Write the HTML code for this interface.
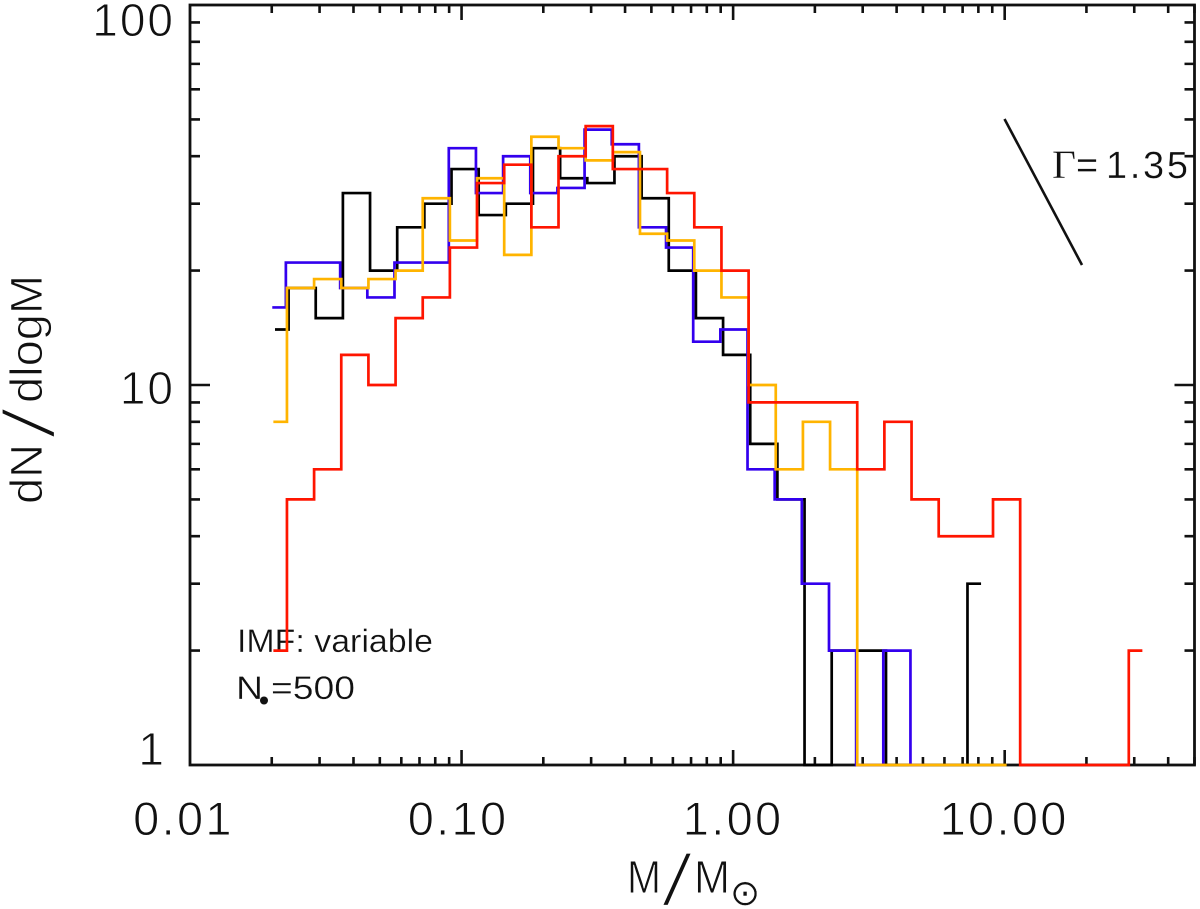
<!DOCTYPE html>
<html lang="en">
<head>
<meta charset="utf-8">
<title>dN/dlogM mass function histogram</title>
<style>
  html, body { margin: 0; padding: 0; background: #fff; }
  svg { display: block; }
  text { font-family: "Liberation Sans", "DejaVu Sans", sans-serif; fill: #111; stroke: #fff; stroke-width: 0.9px; }
  text.small { stroke-width: 0.3px; }
  text.slash { stroke-width: 3.2px; }
</style>
</head>
<body>
<svg id="chart" xmlns="http://www.w3.org/2000/svg" width="1200" height="909" viewBox="0 0 1200 909">
  <rect x="0" y="0" width="1200" height="909" fill="#fff"/>
  <g id="labels">
    <text class="small" x="237" y="652" font-size="32" textLength="196" lengthAdjust="spacingAndGlyphs">IMF: variable</text>
    <text class="small" x="236" y="699" font-size="32" textLength="27" lengthAdjust="spacingAndGlyphs">N</text>
    <circle cx="264" cy="700.5" r="4" fill="#111"/>
    <text class="small" x="271" y="699" font-size="32" textLength="84" lengthAdjust="spacingAndGlyphs">=500</text>
    <text class="small" x="1052" y="178" font-size="40" style="font-family:'Liberation Serif',serif" textLength="24" lengthAdjust="spacingAndGlyphs">Γ</text>
    <text class="small" x="1076" y="178" font-size="38">=</text>
    <text class="small" x="1106" y="178" font-size="38" textLength="82" lengthAdjust="spacing">1.35</text>
    <text class="slash" transform="translate(55,440) rotate(-90)" font-size="74" textLength="34" lengthAdjust="spacingAndGlyphs">/</text>
    <text transform="translate(42,504) rotate(-90)" font-size="45" textLength="60" lengthAdjust="spacingAndGlyphs">dN</text>
    <text transform="translate(42,403) rotate(-90)" font-size="45" textLength="128" lengthAdjust="spacingAndGlyphs">dlogM</text>
    <text class="slash" x="660" y="906" font-size="74" textLength="34" lengthAdjust="spacingAndGlyphs">/</text>
    <text x="627" y="893" font-size="46" textLength="34" lengthAdjust="spacingAndGlyphs">M</text>
    <text x="694" y="893" font-size="46" textLength="36" lengthAdjust="spacingAndGlyphs">M</text>
    <text x="730" y="905" font-size="36" style="font-family:'DejaVu Sans',sans-serif;stroke-width:0.3px">⊙</text>
  </g>
  <g id="axes"></g>
  <g id="series"></g>
  <line x1="1004.5" y1="119" x2="1082" y2="265" stroke="#111" stroke-width="2.6"/>
</svg>
<script>
// Log10 of bin-centre mass
const logMassBins = [-1.693,-1.593,-1.493,-1.393,-1.293,-1.193,-1.093,-0.993,-0.893,-0.793,-0.693,-0.593,-0.493,-0.393,-0.293,-0.193,-0.093,0.007,0.107,0.207,0.307,0.407,0.507,0.607,0.707,0.807,0.907,1.007,1.107,1.207,1.307,1.407,1.507];
const binWidthDex = 0.1;

// Counts per bin (1 sits on the axis floor)
const blackCounts  = [14,18,15,32,20,26,30,37,28,30,42,35,34,40,31,20,15,12,7,5,1,2,2,1,1,1,3];
const blueCounts   = [16,21,21,18,17,21,21,42,32,40,32,33,47,43,26,23,13,14,6,5,3,2,1,2,1];
const orangeCounts = [8,18,19,18,19,20,31,24,35,22,45,42,39,41,25,24,20,17,10,6,8,6,1,1,1,1,1,1];
const redCounts    = [2,5,6,12,10,15,17,23,34,38,26,40,48,37,37,32,26,20,9,9,9,9,6,8,5,4,4,5,1,1,1,1,2];

// Small per-series bin shift in dex
const blackShift = 0.006;
const blueShift = -0.004;
const orangeShift = 0;
const redShift = 0;

const xTickLabels = ["0.01","0.10","1.00","10.00"];
const xTickValues = [0.01,0.1,1,10];
const xMinorMultipliers = [2,3,4,5,6,7,8,9];
const yTickLabels = ["1","10","100"];
const yTickValues = [1,10,100];

const xDomain = [0.01,50], yDomain = [1,100];
const plotLeft = 190, plotRight = 1194.5, plotTop = 5, plotBottom = 765;
const NS = "http://www.w3.org/2000/svg";

function xLog(logM) {
  const a = Math.log10(xDomain[0]), b = Math.log10(xDomain[1]);
  return plotLeft + (logM - a) / (b - a) * (plotRight - plotLeft);
}
function xScale(m) { return xLog(Math.log10(m)); }
function yScale(v) {
  const a = Math.log10(yDomain[0]), b = Math.log10(yDomain[1]);
  return plotBottom - (Math.log10(v) - a) / (b - a) * (plotBottom - plotTop);
}
function mk(tag, attrs) {
  const el = document.createElementNS(NS, tag);
  for (const k in attrs) el.setAttribute(k, attrs[k]);
  return el;
}

const axes = document.getElementById("axes");
const seriesGroup = document.getElementById("series");

const frame = mk("rect", {x: plotLeft, y: plotTop, width: plotRight - plotLeft, height: plotBottom - plotTop, fill: "none", stroke: "#111", "stroke-width": 2.8});


axes.appendChild(frame);

function tickPath(x1, y1, x2, y2) { return "M" + x1 + " " + y1 + "L" + x2 + " " + y2; }

let xTickD = "";
xTickValues.forEach(function (dec) {
  const vals = [dec].concat(xMinorMultipliers.map(function (m) { return dec * m; }));
  vals.forEach(function (v, i) {
    if (v > xDomain[1]) return;
    const px = xScale(v), len = i === 0 ? 15 : 8;
    if (v > xDomain[0]) {
      xTickD += tickPath(px, plotBottom, px, plotBottom - len);
      xTickD += tickPath(px, plotTop, px, plotTop + len);
    }
  });
});
const xTicks = mk("path", {d: xTickD, stroke: "#111", "stroke-width": 2.6, fill: "none"});


axes.appendChild(xTicks);

let yTickD = "";
yTickValues.forEach(function (dec) {
  [1].concat(xMinorMultipliers).forEach(function (m) {
    const v = dec * m;
    if (v >= yDomain[1] || v <= yDomain[0] && m !== 1) return;
    if (v === yDomain[0]) return;
    const py = yScale(v), len = m === 1 ? 20 : 10;
    yTickD += tickPath(plotLeft, py, plotLeft + len, py);
    yTickD += tickPath(plotRight, py, plotRight - len, py);
  });
});
const yTicks = mk("path", {d: yTickD, stroke: "#111", "stroke-width": 2.6, fill: "none"});


axes.appendChild(yTicks);

xTickLabels.forEach(function (label, i) {
  const nudge = i === 0 ? -6.5 : i === 1 ? -3.5 : i === 2 ? 0 : -0.5;
  const t = mk("text", {x: xScale(xTickValues[i]) + nudge, y: 835, "font-size": 47, "text-anchor": "middle", "letter-spacing": 2.3});
  t.textContent = label;
  
  
  axes.appendChild(t);
});

yTickLabels.forEach(function (label, i) {
  const dec = Math.log10(yTickValues[i]);
  const t = mk("text", {x: i === 0 ? 166 : 175, y: yScale(yTickValues[i]) + (i === 0 ? 0 : 7 + 12 * dec), "font-size": 46, "text-anchor": "end", "letter-spacing": 2});
  t.textContent = label;
  
  
  axes.appendChild(t);
});

function stepPath(counts, shift) {
  let d = "";
  counts.forEach(function (c, i) {
    const centre = logMassBins[i] + shift;
    const py = yScale(c);
    if (i === 0) {
      d += "M" + xLog(centre).toFixed(2) + " " + py.toFixed(2);
    } else {
      const edge = xLog(centre - binWidthDex / 2).toFixed(2);
      d += "H" + edge + "V" + py.toFixed(2);
    }
    if (i === counts.length - 1) d += "H" + xLog(centre).toFixed(2);
  });
  return d;
}

const blackLine = mk("path", {d: stepPath(blackCounts, blackShift), fill: "none", stroke: "#000000", "stroke-width": 2.7});


seriesGroup.appendChild(blackLine);

const blueLine = mk("path", {d: stepPath(blueCounts, blueShift), fill: "none", stroke: "#3300ee", "stroke-width": 2.7});


seriesGroup.appendChild(blueLine);

const orangeLine = mk("path", {d: stepPath(orangeCounts, orangeShift), fill: "none", stroke: "#ffb400", "stroke-width": 2.7});


seriesGroup.appendChild(orangeLine);

const redLine = mk("path", {d: stepPath(redCounts, redShift), fill: "none", stroke: "#ff1500", "stroke-width": 2.7});


seriesGroup.appendChild(redLine);
</script>
</body>
</html>
